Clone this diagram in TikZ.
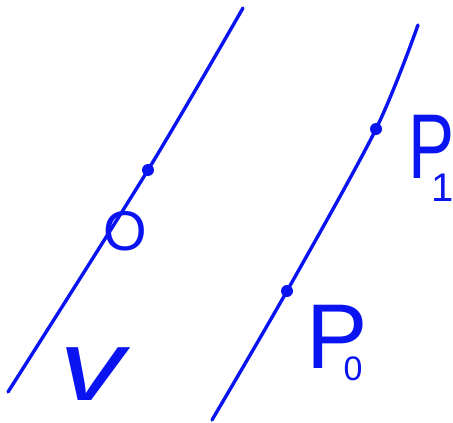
\documentclass[tikz,border=0pt]{standalone}
\usepackage{fontspec}
\setmainfont{Liberation Sans}
\usepackage{tikz}
\usetikzlibrary{positioning}
\definecolor{InkBlue}{HTML}{0A14F0}

\begin{document}
\begin{tikzpicture}[x=1pt,y=-1pt,
    ink/.style={draw=InkBlue, line width=3.4pt, line cap=round, line join=round},
    dotmark/.style={circle, fill=InkBlue, inner sep=0pt, minimum size=12pt},
    lbl/.style={text=InkBlue, inner sep=0pt, font=\fontsize{92}{92}\selectfont}
]
    \useasboundingbox (0,0) rectangle (453,423);

    % left line, through the origin
    \coordinate (leftBot) at (8,392);
    \coordinate (leftTop) at (243,8);
    \coordinate (leftMid) at (148,170);
    \draw[ink] plot[smooth] coordinates {(leftBot) (leftMid) (leftTop)};
    \node[dotmark] (origDot) at (leftMid) {};
    \node[lbl, font=\fontsize{56}{56}\selectfont] (origLbl) at (125,231) {O};
    \node[lbl, font=\itshape\fontsize{100}{100}\selectfont] (vecLbl) at (92,374) {\scalebox{1.3}[1]{v}};

    % right line, through P0 and P1
    \coordinate (rightBot) at (212,420);
    \coordinate (rightTop) at (418,25);
    \node[dotmark] (pzeroDot) at (287,291) {};
    \node[dotmark] (poneDot) at (376,129) {};
    \draw[ink] plot[smooth] coordinates {(rightBot) (pzeroDot.center) (poneDot.center) (rightTop)};

    \node[lbl, anchor=north west] (pzeroLbl) at (306,305)
        {P\kern-24pt\raisebox{-12pt}{\fontsize{34}{34}\selectfont 0}};
    \node[lbl, anchor=north west] (poneLbl) at (408,115)
        {\scalebox{0.75}[1]{P}\kern-23pt\raisebox{-23pt}{\fontsize{40}{40}\selectfont 1}};
\end{tikzpicture}
\end{document}
